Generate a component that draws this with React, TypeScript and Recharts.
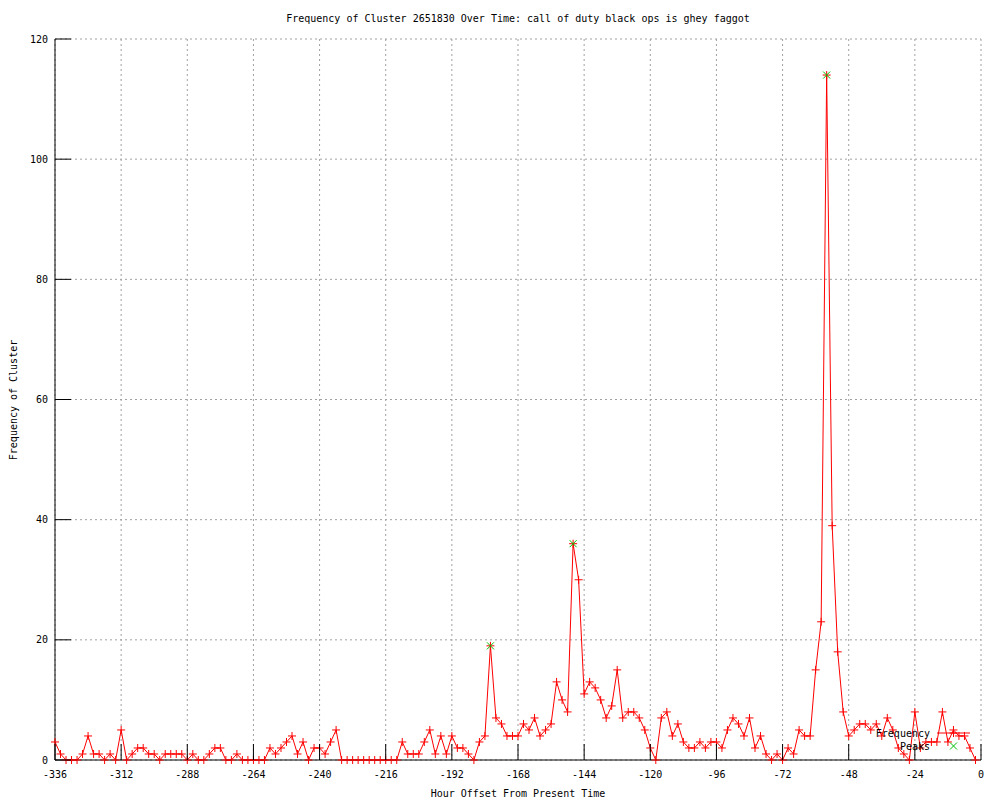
import React from "react";
import { LineChart, Line, XAxis, YAxis, CartesianGrid } from "recharts";

// hours before now, one sample every 2 hours
const hours = Array.from({ length: 168 }, (_, i) => -336 + i * 2);

const frequency = [
  3, 1, 0, 0, 0, 1, 4, 1, 1, 0, 1, 0, 5, 0, 1, 2, 2, 1, 1, 0,
  1, 1, 1, 1, 0, 1, 0, 0, 1, 2, 2, 0, 0, 1, 0, 0, 0, 0, 0, 2,
  1, 2, 3, 4, 1, 3, 0, 2, 2, 1, 3, 5, 0, 0, 0, 0, 0, 0, 0, 0,
  0, 0, 0, 3, 1, 1, 1, 3, 5, 1, 4, 1, 4, 2, 2, 1, 0, 3, 4, 19,
  7, 6, 4, 4, 4, 6, 5, 7, 4, 5, 6, 13, 10, 8, 36, 30, 11, 13, 12, 10,
  7, 9, 15, 7, 8, 8, 7, 5, 2, 0, 7, 8, 4, 6, 3, 2, 2, 3, 2, 3,
  3, 2, 5, 7, 6, 4, 7, 2, 4, 1, 0, 1, 0, 2, 1, 5, 4, 4, 15, 23,
  114, 39, 18, 8, 4, 5, 6, 6, 5, 6, 4, 7, 5, 2, 1, 0, 8, 2, 3, 3,
  3, 8, 3, 5, 4, 4, 2, 0,
];

const peakHours = [-178, -148, -56];

const xTicks = [-336, -312, -288, -264, -240, -216, -192, -168, -144, -120, -96, -72, -48, -24, 0];
const yTicks = [0, 20, 40, 60, 80, 100, 120];

const data = hours.map((h, i) => ({
  hour: h,
  freq: frequency[i],
  peak: peakHours.includes(h) ? frequency[i] : null,
}));

const FONT = "'DejaVu Sans Mono', monospace";
const PLOT_LEFT = 55;
const PLOT_RIGHT = 981;
const PLOT_TOP = 39;
const PLOT_BOTTOM = 760;
const TIC = 16;

const BottomTick = (props: any) => {
  const { x, payload } = props;
  return (
    <g>
      <line x1={x} y1={PLOT_BOTTOM} x2={x} y2={PLOT_BOTTOM - TIC} stroke="#000" />
      <text x={x} y={774} textAnchor="middle" dominantBaseline="central" fontFamily={FONT} fontSize={10} fill="#000">
        {payload.value}
      </text>
    </g>
  );
};

const TopTick = (props: any) => {
  const { x } = props;
  return <line x1={x} y1={PLOT_TOP} x2={x} y2={PLOT_TOP + TIC} stroke="#000" />;
};

const LeftTick = (props: any) => {
  const { y, payload } = props;
  return (
    <g>
      <line x1={PLOT_LEFT} y1={y} x2={PLOT_LEFT + TIC} y2={y} stroke="#000" />
      <text x={48} y={y} textAnchor="end" dominantBaseline="central" fontFamily={FONT} fontSize={10} fill="#000">
        {payload.value}
      </text>
    </g>
  );
};

const RightTick = (props: any) => {
  const { y } = props;
  return <line x1={PLOT_RIGHT} y1={y} x2={PLOT_RIGHT - TIC} y2={y} stroke="#000" />;
};

const PlusDot = (props: any) => {
  const { cx, cy, index } = props;
  if (cx == null || cy == null) return <g key={index} />;
  return (
    <path
      key={index}
      d={`M${cx - 4},${cy}H${cx + 4}M${cx},${cy - 4}V${cy + 4}`}
      stroke="#ff0000"
      fill="none"
    />
  );
};

const CrossDot = (props: any) => {
  const { cx, cy, index, payload } = props;
  if (cx == null || cy == null || payload.peak == null) return <g key={index} />;
  return (
    <path
      key={index}
      d={`M${cx - 3.5},${cy - 3.5}L${cx + 3.5},${cy + 3.5}M${cx - 3.5},${cy + 3.5}L${cx + 3.5},${cy - 3.5}`}
      stroke="#00c000"
      fill="none"
    />
  );
};

export default function App() {
  return (
    <div style={{ position: "absolute", left: 0, top: 0, width: 1000, height: 800, background: "#fff" }}>
      <LineChart width={1000} height={800} data={data} margin={{ top: PLOT_TOP, right: 1000 - PLOT_RIGHT, bottom: 0, left: 0 }}>
        <CartesianGrid stroke="#a0a0a0" strokeDasharray="2 3" />
        <XAxis
          dataKey="hour"
          type="number"
          domain={[-336, 0]}
          ticks={xTicks}
          interval={0}
          height={40}
          tickLine={false}
          tickSize={0}
          tick={<BottomTick />}
          axisLine={{ stroke: "#000" }}
        />
        <XAxis
          xAxisId="top"
          orientation="top"
          dataKey="hour"
          type="number"
          domain={[-336, 0]}
          ticks={xTicks}
          interval={0}
          height={0}
          tickLine={false}
          tickSize={0}
          tick={<TopTick />}
          axisLine={{ stroke: "#000" }}
        />
        <YAxis
          type="number"
          domain={[0, 120]}
          ticks={yTicks}
          interval={0}
          width={PLOT_LEFT}
          tickLine={false}
          tickSize={0}
          tick={<LeftTick />}
          axisLine={{ stroke: "#000" }}
        />
        <YAxis
          yAxisId="right"
          orientation="right"
          type="number"
          domain={[0, 120]}
          ticks={yTicks}
          interval={0}
          width={0}
          tickLine={false}
          tickSize={0}
          tick={<RightTick />}
          axisLine={{ stroke: "#000" }}
        />
        <Line
          type="linear"
          dataKey="freq"
          stroke="#ff0000"
          strokeWidth={1}
          dot={<PlusDot />}
          activeDot={false}
          isAnimationActive={false}
        />
        <Line
          type="linear"
          dataKey="peak"
          stroke="none"
          dot={<CrossDot />}
          activeDot={false}
          connectNulls={false}
          isAnimationActive={false}
        />
      </LineChart>
      <svg
        width={1000}
        height={800}
        style={{ position: "absolute", left: 0, top: 0, pointerEvents: "none" }}
        fontFamily={FONT}
        fontSize={10}
      >
        <text x={518} y={18} textAnchor="middle" dominantBaseline="central">
          Frequency of Cluster 2651830 Over Time: call of duty black ops is ghey faggot
        </text>
        <text x={518} y={793} textAnchor="middle" dominantBaseline="central">
          Hour Offset From Present Time
        </text>
        <text x={13} y={400} textAnchor="middle" dominantBaseline="central" transform="rotate(-90 13 400)">
          Frequency of Cluster
        </text>
        <text x={930} y={733} textAnchor="end" dominantBaseline="central">Frequency</text>
        <line x1={937} y1={733} x2={970} y2={733} stroke="#ff0000" />
        <path d="M949.5,733H957.5M953.5,729V737" stroke="#ff0000" fill="none" />
        <text x={930} y={746} textAnchor="end" dominantBaseline="central">Peaks</text>
        <path d="M950,742.5L957,749.5M950,749.5L957,742.5" stroke="#00c000" fill="none" />
      </svg>
    </div>
  );
}
